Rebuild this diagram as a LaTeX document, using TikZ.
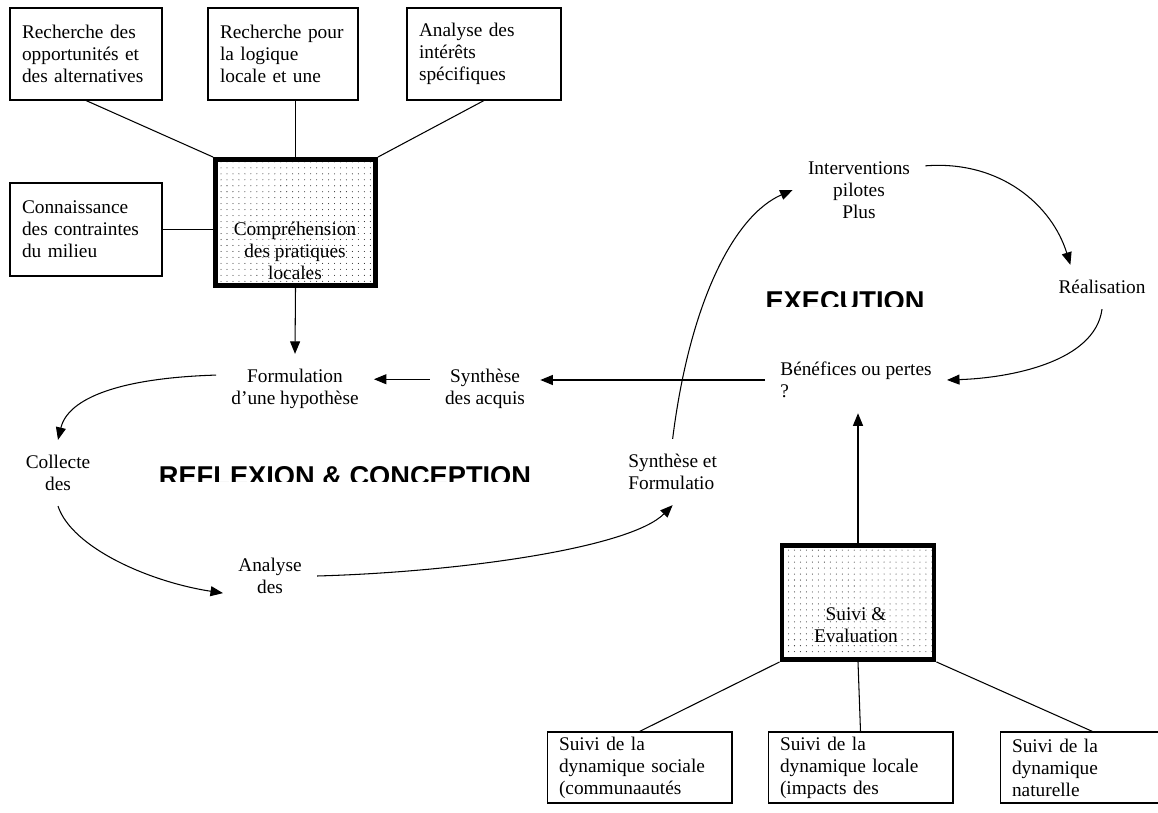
\documentclass[tikz,border=0pt]{standalone}
\usepackage{fontspec}
\setmainfont{Liberation Serif}
\newfontfamily\titresans{Liberation Sans}
\usetikzlibrary{arrows.meta}
\usetikzlibrary{patterns.meta}
\usetikzlibrary{positioning}

\tikzset{
  boite/.style 2 args={draw, line width=0.6pt, align=left, inner xsep=0.24cm,
    inner ysep=0pt, text width=#1, minimum height=#2},
  coeur/.style 2 args={draw, line width=2.8pt,
    pattern={Dots[distance=3.4pt, radius=0.3pt]}, pattern color=black!85,
    minimum width=#1, minimum height=#2},
  etape/.style={align=center, inner sep=0.3cm},
  lien/.style={line width=0.6pt},
  fleche/.style={line width=0.6pt, -{Triangle[length=0.25cm,width=0.2cm]}},
  titre/.style={font=\titresans\bfseries\fontsize{15.5}{18}\selectfont, anchor=base},
}

\begin{document}
\begin{tikzpicture}[x=0.02cm, y=-0.02cm, every node/.style={font=\fontsize{11}{12.5}\selectfont}]

  \useasboundingbox (0,0) rectangle (1158,813);

  % Boîtes du haut
  \node[boite={2.56cm}{1.84cm}] (opport) at (86,54) {Recherche des\\opportunités et\\des alternatives};
  \node[boite={2.52cm}{1.84cm}] (logique) at (283,54) {Recherche pour\\la logique\\locale et une};
  \node[boite={2.60cm}{1.84cm}] (interets) at (484,54) {Analyse des\\intérêts\\spécifiques};
  \node[boite={2.56cm}{1.86cm}] (milieu) at (86,229.5) {Connaissance\\des contraintes\\du milieu};

  % Compréhension des pratiques locales
  \node[coeur={3.2cm}{2.52cm}] (compr) at (295.5,222.5) {};
  \node[etape] (comprtxt) at (295,251) {Compréhension\\des pratiques\\locales};

  \draw[lien] (opport.south) -- (compr.north west);
  \draw[lien] (compr.north |- logique.south) -- (compr.north);
  \draw[lien] (interets.south) -- (compr.north east);
  \draw[lien] (milieu.east) -- (milieu.east -| compr.west);

  % Cycle reflexion & conception
  \node[etape] (formul) at (295,389) {Formulation\\d'une hypothèse};
  \node[etape] (acquis) at (485,389) {Synthèse\\des acquis};
  \node[etape] (collecte) at (58,473) {Collecte\\des};
  \node[etape] (analyse) at (270,576) {Analyse\\des};
  \node[etape, align=left, anchor=west] (synthform) at (613,472) {Synthèse et\\Formulatio};

  \draw[fleche] (compr.south) -- (formul.north);
  \draw[fleche] (acquis.170) -- (acquis.170 -| formul.east);
  \draw[fleche] (formul.170) .. controls (120,378) and (68,398) .. (collecte.north);
  \draw[fleche] (collecte.south) .. controls (72,548) and (150,582) .. (analyse.200);
  \draw[fleche] (analyse.east) .. controls (460,572) and (630,548) .. (synthform.south);

  % Cycle execution
  \node[etape] (pilotes) at (859,190) {Interventions\\pilotes\\Plus};
  \node[etape] (realis) at (1102,287) {Réalisation};
  \node[etape, align=left, anchor=west] (benef) at (765,380) {Bénéfices ou pertes\\?};

  \draw[fleche] (synthform.north) .. controls (690,300) and (735,215) .. (pilotes.west);
  \draw[fleche] (pilotes.20) .. controls (1000,160) and (1052,205) .. (realis.145);
  \draw[fleche] (realis.south) .. controls (1095,362) and (1010,378) .. (benef.east);
  \draw[fleche] (benef.west) -- (benef.west -| acquis.east);

  % Titres (coupés en bas)
  \begin{scope}
    \clip (120,440) rectangle (580,481);
    \node[titre] (reflex) at (345,485) {REFLEXION \& CONCEPTION};
  \end{scope}
  \begin{scope}
    \clip (740,270) rectangle (950,307);
    \node[titre] (execut) at (845,311) {EXECUTION};
  \end{scope}

  % Suivi & Evaluation
  \node[coeur={3.04cm}{2.28cm}] (suivi) at (858,602.5) {};
  \node[etape] (suivitxt) at (856,625) {Suivi \&\\Evaluation};
  \draw[fleche] (suivi.north) -- (suivi.north |- benef.south);

  % Boîtes du bas
  \node[boite={3.22cm}{1.42cm}] (sociale) at (639.5,767.5) {Suivi de la\\dynamique sociale\\(communaautés};
  \node[boite={3.22cm}{1.42cm}] (locale) at (860.5,767.5) {Suivi de la\\dynamique locale\\(impacts des};
  \node[boite={3.22cm}{1.42cm}] (naturelle) at (1092.5,767.5) {Suivi de la\\dynamique\\naturelle};

  \draw[lien] (suivi.south west) -- (sociale.north);
  \draw[lien] (suivi.south) -- (locale.north);
  \draw[lien] (suivi.south east) -- (naturelle.north);

\end{tikzpicture}
\end{document}
